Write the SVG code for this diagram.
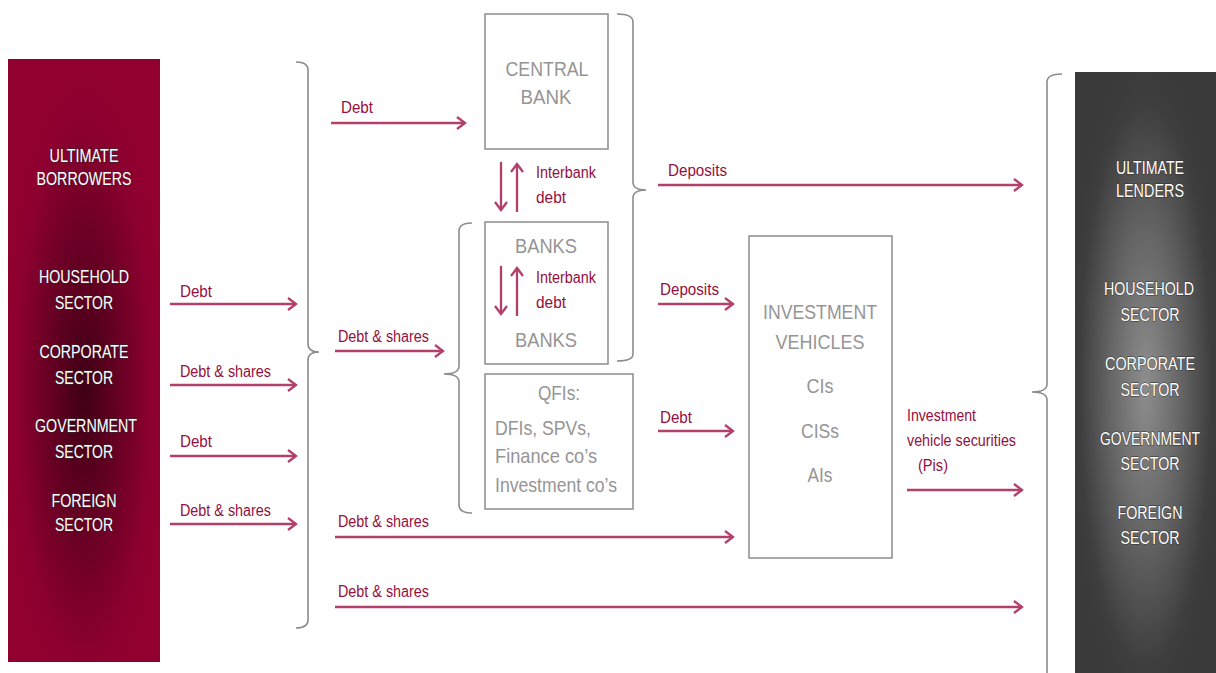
<svg xmlns="http://www.w3.org/2000/svg" width="1216" height="673" viewBox="0 0 1216 673">
<style>
text{font-family:"Liberation Sans Narrow","Liberation Sans",Arial,sans-serif}
.pt{fill:#fff;font-size:18px;text-anchor:middle;stroke:#2e2e2e;stroke-width:0.9;paint-order:stroke}
.bx{fill:none;stroke:#8c8c8c;stroke-width:1.5}
.gt{fill:#959595;font-size:21px;text-anchor:middle}
.gl{fill:#959595;font-size:21px}
.br{fill:none;stroke:#8c8c8c;stroke-width:1.6}
.ar{fill:none;stroke:#b3406a;stroke-width:2.3;marker-end:url(#ah)}
.lb{fill:#940f3e;font-size:16px}
</style>
<defs>
<radialGradient id="gRed" cx="0.5" cy="0.55" r="0.55">
<stop offset="0" stop-color="#3f0015"/>
<stop offset="0.45" stop-color="#6a0025"/>
<stop offset="0.8" stop-color="#8c002f"/>
<stop offset="1" stop-color="#920030"/>
</radialGradient>
<radialGradient id="gGray" cx="0.5" cy="0.52" r="0.55">
<stop offset="0" stop-color="#8e8e8e"/>
<stop offset="0.45" stop-color="#666"/>
<stop offset="0.85" stop-color="#3e3e3e"/>
<stop offset="1" stop-color="#3a3a3a"/>
</radialGradient>
<marker id="ah" markerUnits="userSpaceOnUse" markerWidth="14" markerHeight="16" refX="10" refY="8" orient="auto">
<path d="M2,2 L10,8 L2,14" fill="none" stroke="#b3406a" stroke-width="2.3"/>
</marker>
</defs>
<rect width="1216" height="673" fill="#fff"/>

<g id="borrowers">
<rect x="8" y="59" width="152" height="603" fill="url(#gRed)"/>
<text class="pt" x="84" y="162" textLength="69" lengthAdjust="spacingAndGlyphs">ULTIMATE</text>
<text class="pt" x="84" y="185" textLength="95" lengthAdjust="spacingAndGlyphs">BORROWERS</text>
<text class="pt" x="84" y="283" textLength="90" lengthAdjust="spacingAndGlyphs">HOUSEHOLD</text>
<text class="pt" x="84" y="309" textLength="58" lengthAdjust="spacingAndGlyphs">SECTOR</text>
<text class="pt" x="84" y="358" textLength="89" lengthAdjust="spacingAndGlyphs">CORPORATE</text>
<text class="pt" x="84" y="384" textLength="58" lengthAdjust="spacingAndGlyphs">SECTOR</text>
<text class="pt" x="86" y="432" textLength="102" lengthAdjust="spacingAndGlyphs">GOVERNMENT</text>
<text class="pt" x="84" y="458" textLength="58" lengthAdjust="spacingAndGlyphs">SECTOR</text>
<text class="pt" x="84" y="507" textLength="65" lengthAdjust="spacingAndGlyphs">FOREIGN</text>
<text class="pt" x="84" y="531" textLength="58" lengthAdjust="spacingAndGlyphs">SECTOR</text>
</g>

<g id="lenders">
<rect x="1075" y="72" width="141" height="601" fill="url(#gGray)"/>
<text class="pt" x="1150" y="174" textLength="68" lengthAdjust="spacingAndGlyphs">ULTIMATE</text>
<text class="pt" x="1150" y="197" textLength="68" lengthAdjust="spacingAndGlyphs">LENDERS</text>
<text class="pt" x="1149" y="295" textLength="90" lengthAdjust="spacingAndGlyphs">HOUSEHOLD</text>
<text class="pt" x="1150" y="321" textLength="59" lengthAdjust="spacingAndGlyphs">SECTOR</text>
<text class="pt" x="1150" y="370" textLength="90" lengthAdjust="spacingAndGlyphs">CORPORATE</text>
<text class="pt" x="1150" y="396" textLength="59" lengthAdjust="spacingAndGlyphs">SECTOR</text>
<text class="pt" x="1150" y="445" style="font-size:17.5px" textLength="100" lengthAdjust="spacingAndGlyphs">GOVERNMENT</text>
<text class="pt" x="1150" y="470" textLength="59" lengthAdjust="spacingAndGlyphs">SECTOR</text>
<text class="pt" x="1150" y="519" textLength="65" lengthAdjust="spacingAndGlyphs">FOREIGN</text>
<text class="pt" x="1150" y="544" textLength="59" lengthAdjust="spacingAndGlyphs">SECTOR</text>
</g>

<g id="central-bank">
<rect class="bx" x="485" y="14" width="123" height="135"/>
<text class="gt" x="547" y="76" textLength="83" lengthAdjust="spacingAndGlyphs">CENTRAL</text>
<text class="gt" x="546" y="104" textLength="51" lengthAdjust="spacingAndGlyphs">BANK</text>
</g>

<g id="banks">
<rect class="bx" x="485" y="222" width="123" height="142"/>
<text class="gt" x="546" y="253" textLength="62" lengthAdjust="spacingAndGlyphs">BANKS</text>
<text class="gt" x="546" y="347" textLength="62" lengthAdjust="spacingAndGlyphs">BANKS</text>
</g>

<g id="qfis">
<rect class="bx" x="485" y="374" width="148" height="135"/>
<text class="gt" x="559" y="400" textLength="42" lengthAdjust="spacingAndGlyphs">QFIs:</text>
<text class="gl" x="495" y="435" textLength="96" lengthAdjust="spacingAndGlyphs">DFIs, SPVs,</text>
<text class="gl" x="495" y="463" textLength="102" lengthAdjust="spacingAndGlyphs">Finance co’s</text>
<text class="gl" x="495" y="492" textLength="122" lengthAdjust="spacingAndGlyphs">Investment co’s</text>
</g>

<g id="investment-vehicles">
<rect class="bx" x="749" y="236" width="143" height="322"/>
<text class="gt" x="820" y="319" textLength="114" lengthAdjust="spacingAndGlyphs">INVESTMENT</text>
<text class="gt" x="820" y="349" textLength="89" lengthAdjust="spacingAndGlyphs">VEHICLES</text>
<text class="gt" x="820" y="393" textLength="27" lengthAdjust="spacingAndGlyphs">CIs</text>
<text class="gt" x="820" y="438" textLength="38" lengthAdjust="spacingAndGlyphs">CISs</text>
<text class="gt" x="820" y="482" textLength="25" lengthAdjust="spacingAndGlyphs">AIs</text>
</g>

<g id="braces">
<path class="br" d="M296,62 Q308,62 308,70 L308,344 Q308,352 319,352 Q308,352 308,360 L308,620 Q308,628 296,628"/>
<path class="br" d="M617,14 Q633,14 633,22 L633,182 Q633,190 646,190 Q633,190 633,198 L633,354 Q633,361 617,361"/>
<path class="br" d="M472,223 Q459,223 459,231 L459,366 Q459,374 444,374 Q459,374 459,382 L459,505 Q459,513 472,513"/>
<path class="br" d="M1062,74 Q1047,74 1047,82 L1047,384 Q1047,392 1032,392 Q1047,392 1047,400 L1047,673"/>
</g>

<g id="connectors">
<path class="ar" d="M170,304 H296"/>
<path class="ar" d="M170,385 H296"/>
<path class="ar" d="M170,456 H296"/>
<path class="ar" d="M170,524 H296"/>
<path class="ar" d="M331,123 H465"/>
<path class="ar" d="M335,351 H443"/>
<path class="ar" d="M335,537 H733"/>
<path class="ar" d="M335,607 H1022"/>
<path class="ar" d="M658,185 H1022"/>
<path class="ar" d="M658,304 H733"/>
<path class="ar" d="M658,431 H733"/>
<path class="ar" d="M907,490 H1022"/>
<path class="ar" d="M501,162 V210"/>
<path class="ar" d="M517,212 V164"/>
<path class="ar" d="M501,266 V314"/>
<path class="ar" d="M517,316 V268"/>
<text class="lb" x="180" y="297" textLength="32" lengthAdjust="spacingAndGlyphs">Debt</text>
<text class="lb" x="180" y="377" textLength="91" lengthAdjust="spacingAndGlyphs">Debt &amp; shares</text>
<text class="lb" x="180" y="447" textLength="32" lengthAdjust="spacingAndGlyphs">Debt</text>
<text class="lb" x="180" y="516" textLength="91" lengthAdjust="spacingAndGlyphs">Debt &amp; shares</text>
<text class="lb" x="341" y="113" textLength="32" lengthAdjust="spacingAndGlyphs">Debt</text>
<text class="lb" x="338" y="342" textLength="91" lengthAdjust="spacingAndGlyphs">Debt &amp; shares</text>
<text class="lb" x="338" y="527" textLength="91" lengthAdjust="spacingAndGlyphs">Debt &amp; shares</text>
<text class="lb" x="338" y="597" textLength="91" lengthAdjust="spacingAndGlyphs">Debt &amp; shares</text>
<text class="lb" x="668" y="176" textLength="59" lengthAdjust="spacingAndGlyphs">Deposits</text>
<text class="lb" x="660" y="295" textLength="59" lengthAdjust="spacingAndGlyphs">Deposits</text>
<text class="lb" x="660" y="423" textLength="32" lengthAdjust="spacingAndGlyphs">Debt</text>
<text class="lb" x="536" y="178" textLength="60" lengthAdjust="spacingAndGlyphs">Interbank</text>
<text class="lb" x="536" y="203" textLength="30" lengthAdjust="spacingAndGlyphs">debt</text>
<text class="lb" x="536" y="283" textLength="60" lengthAdjust="spacingAndGlyphs">Interbank</text>
<text class="lb" x="536" y="308" textLength="30" lengthAdjust="spacingAndGlyphs">debt</text>
<text class="lb" x="907" y="421" textLength="69" lengthAdjust="spacingAndGlyphs">Investment</text>
<text class="lb" x="907" y="446" textLength="109" lengthAdjust="spacingAndGlyphs">vehicle securities</text>
<text class="lb" x="918" y="471" textLength="30" lengthAdjust="spacingAndGlyphs">(Pis)</text>
</g>
</svg>
